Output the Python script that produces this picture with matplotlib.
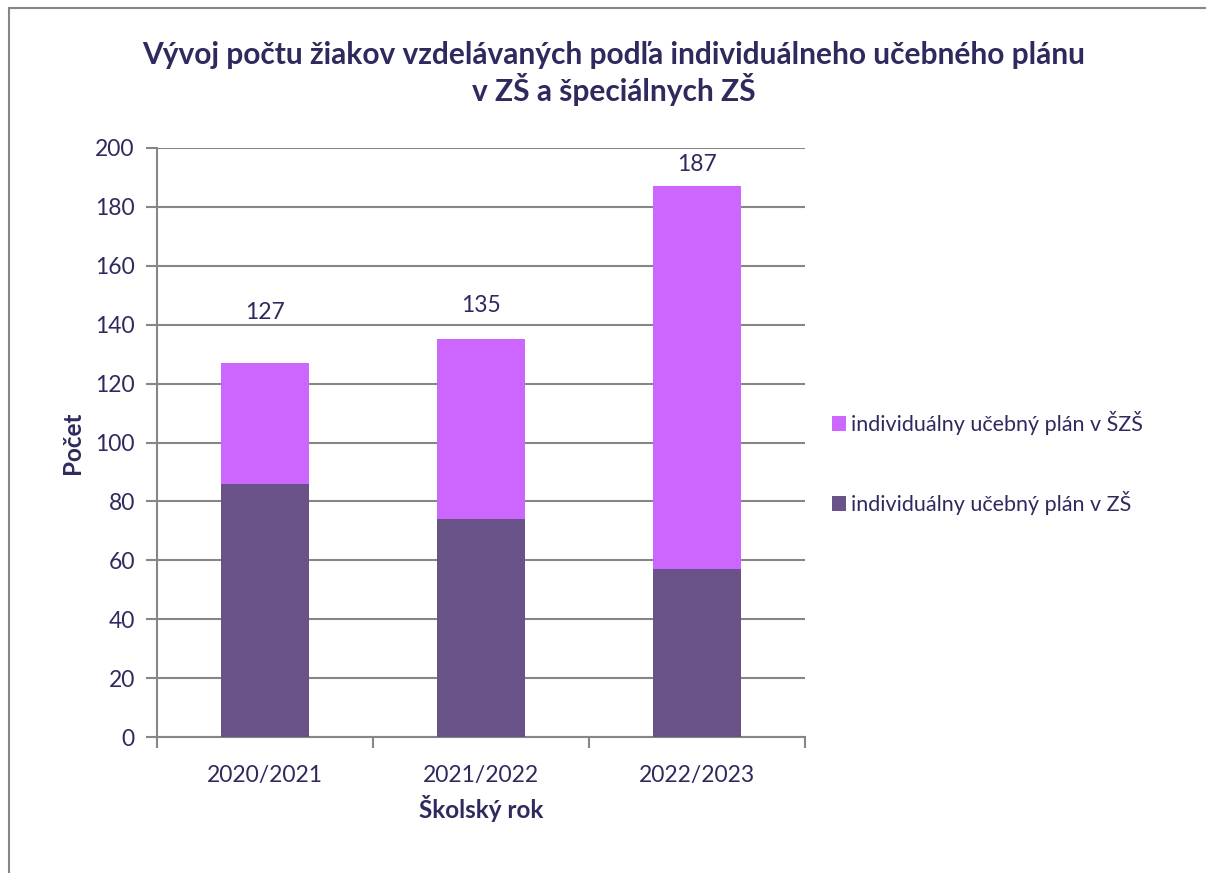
import matplotlib.pyplot as plt
from matplotlib.patches import Rectangle

years = ['2020/2021', '2021/2022', '2022/2023']
zs = [86, 74, 57]
szs = [41, 61, 130]
totals = [127, 135, 187]

# how far above each bar its total label sits (layout only)
label_lift = [17, 11.5, 7.5]

text_color = '#2E2A5E'
plt.rcParams['font.family'] = ['Lato', 'DejaVu Sans']

fig = plt.figure(figsize=(12.06, 8.73), dpi=100)
ax = fig.add_axes([157 / 1206, 1 - 737 / 873, 648 / 1206, 589 / 873])

x = range(len(years))
b1 = ax.bar(x, zs, width=0.41, color='#695287', label='individuálny učebný plán v ZŠ', zorder=3)
b2 = ax.bar(x, szs, width=0.41, bottom=zs, color='#CC66FF', label='individuálny učebný plán v ŠZŠ', zorder=3)

for i, t in enumerate(totals):
    ax.text(i, t + label_lift[i], str(t), ha='center', va='center', fontsize=16.5, color=text_color)

ax.set_xlim(-0.5, 2.5)
ax.set_ylim(0, 200)
ax.set_yticks(range(0, 201, 20))
ax.set_xticks(list(x))
ax.set_xticklabels(years)
ax.set_xticks([-0.5, 0.5, 1.5, 2.5], minor=True)
ax.tick_params(axis='x', which='major', length=0, pad=20, labelsize=16.5, labelcolor=text_color)
ax.tick_params(axis='x', which='minor', length=8, color='#868686', width=1.5)
ax.tick_params(axis='y', length=8, color='#868686', width=1.5, pad=8, labelsize=16.5, labelcolor=text_color)
ax.grid(axis='y', color='#868686', linewidth=1.5, zorder=0)
for s in ['top', 'right']:
    ax.spines[s].set_visible(False)
for s in ['left', 'bottom']:
    ax.spines[s].set_color('#868686')
    ax.spines[s].set_linewidth(1.5)

ax.set_xlabel('Školský rok', fontsize=17.5, fontweight='bold', color=text_color, labelpad=7)
ax.set_ylabel('Počet', fontsize=17.5, fontweight='bold', color=text_color, labelpad=8)

fig.text(614 / 1206, 1 - 73.5 / 873,
         'Vývoj počtu žiakov vzdelávaných podľa individuálneho učebného plánu\nv ZŠ a špeciálnych ZŠ',
         ha='center', va='center', fontsize=21.5, fontweight='bold', color=text_color, linespacing=1.12)

handles = [b2, b1]
fig.legend(handles, [h.get_label() for h in handles], loc='center left',
           bbox_to_anchor=(813 / 1206, 1 - 463 / 873), frameon=False,
           fontsize=15.5, labelcolor=text_color, handlelength=0.65, handleheight=0.65,
           handletextpad=0.2, labelspacing=2.6)

fig.patches.append(Rectangle((9 / 1206, -0.1), 1.2, 1 - 8 / 873 + 0.1, transform=fig.transFigure,
                             fill=False, edgecolor='#868686', linewidth=1.5))

fig.savefig('out.png', dpi=100)
